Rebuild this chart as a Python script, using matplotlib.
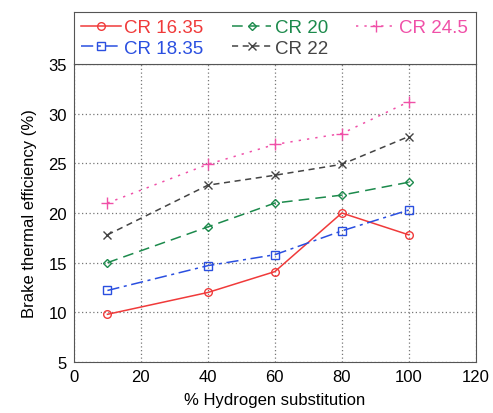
import matplotlib.pyplot as plt

plt.rcParams['font.family'] = ['Liberation Sans', 'DejaVu Sans']

h2 = [10, 40, 60, 80, 100]
cr_1635 = [9.8, 12.0, 14.1, 20.0, 17.8]
cr_1835 = [12.2, 14.7, 15.8, 18.2, 20.3]
cr_20 = [15.0, 18.6, 21.0, 21.8, 23.1]
cr_22 = [17.8, 22.8, 23.8, 24.9, 27.7]
cr_245 = [21.0, 24.9, 26.9, 28.0, 31.2]
labels = ['CR 16.35', 'CR 18.35', 'CR 20', 'CR 22', 'CR 24.5']

fig = plt.figure(figsize=(4.93, 4.14), dpi=100)
ax = fig.add_axes([0.150, 0.1232, 0.815, 0.7198])
lax = fig.add_axes([0.150, 0.843, 0.815, 0.1256])

styles = [
    dict(color='#f03a3a', ls='-', marker='o', mfc='none', ms=5.5),
    dict(color='#2a4fe0', ls=(0, (8, 3, 2, 3)), marker='s', mfc='none', ms=5.5),
    dict(color='#1c8a4c', ls=(0, (7, 4)), marker='D', mfc='none', ms=4),
    dict(color='#444444', ls=(0, (4, 3)), marker='x', ms=6),
    dict(color='#f050a8', ls=(0, (1.5, 4)), marker='+', ms=8),
]
series = [cr_1635, cr_1835, cr_20, cr_22, cr_245]
handles = []
for y, lab, st in zip(series, labels, styles):
    ln, = ax.plot(h2, y, lw=1.1, mew=1.0, label=lab, **st)
    handles.append(ln)

ax.set_xlim(0, 120)
ax.set_ylim(5, 35)
ax.set_xticks(range(0, 121, 20))
ax.set_yticks(range(5, 36, 5))
ax.tick_params(length=0, labelsize=12, pad=5)
ax.grid(True, ls=(0, (1, 2)), color='#777777', lw=0.9)
for s in ax.spines.values():
    s.set_color('#555555')
ax.set_xlabel('% Hydrogen substitution', fontsize=12, labelpad=6)
ax.set_ylabel('Brake thermal efficiency (%)', fontsize=12, labelpad=8)

lax.set_xticks([])
lax.set_yticks([])
for s in lax.spines.values():
    s.set_color('#555555')
leg = lax.legend(handles=handles, loc='center', ncol=3, frameon=False,
                 fontsize=13.5, handlelength=2.1, columnspacing=1.5,
                 handletextpad=0.2, labelspacing=0.2, borderpad=0.2,
                 labelcolor=[st['color'] for st in styles])

fig.savefig('out.png', dpi=100)
